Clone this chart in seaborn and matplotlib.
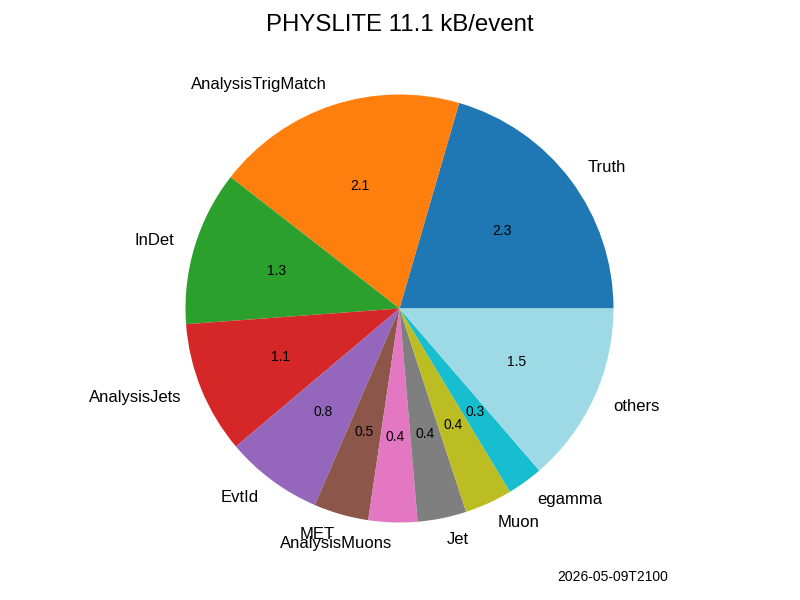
import matplotlib
matplotlib.use("Agg")
import matplotlib.pyplot as plt
import seaborn as sns

sns.set_theme(style="white")
plt.rcParams['font.family'] = ['Liberation Sans', 'DejaVu Sans']
plt.rcParams['text.color'] = 'black'

labels = ["Truth", "AnalysisTrigMatch", "InDet", "AnalysisJets", "EvtId", "MET",
          "AnalysisMuons", "Jet", "Muon", "egamma", "others"]
sizes = [2.28, 2.11, 1.30, 1.11, 0.82, 0.46, 0.41, 0.41, 0.40, 0.30, 1.52]
title = "PHYSLITE 11.1 kB/event"
stamp = "2026-05-09T2100"

tab20 = sns.color_palette("tab20", 20)
tab10 = sns.color_palette("tab10", 10)
cols = list(tab10) + [tab20[19]]

total = sum(sizes)
fig = plt.figure(figsize=(8, 6), dpi=100)
ax = fig.add_axes([132/800, 24/600, 535/800, 535/600])
wedges, texts, autotexts = ax.pie(
    sizes, labels=labels, colors=cols,
    autopct=lambda p: f"{p*total/100:.1f}",
    wedgeprops={"linewidth": 0, "edgecolor": "none"},
    textprops={"fontsize": 12, "color": "black"})
for t in autotexts:
    t.set_fontsize(10)
ax.set_xlim(-1.25, 1.25)
ax.set_ylim(-1.25, 1.25)
fig.suptitle(title, fontsize=17.3, y=1-25/600, va="center", color="black")
fig.text(668/800, 1-577/600, stamp, ha="right", va="center", fontsize=10, color="black")
fig.savefig("out.png", dpi=100)
